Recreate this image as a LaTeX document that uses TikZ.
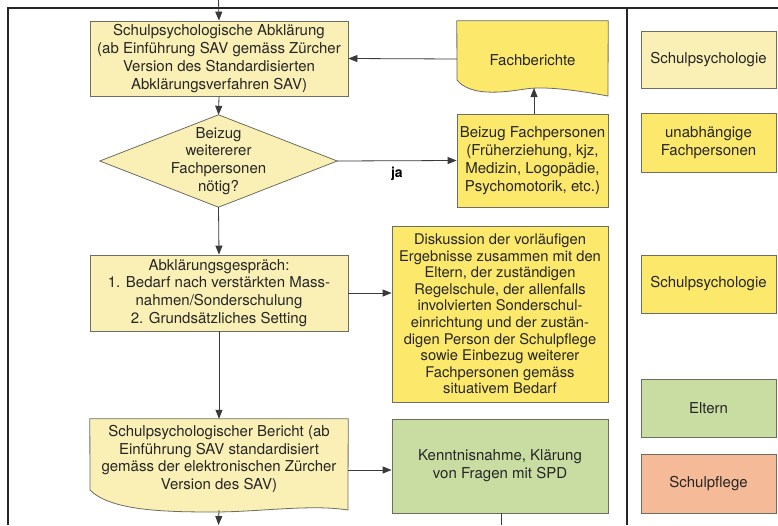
\documentclass[tikz,border=0pt]{standalone}
\usepackage{fontspec}
\setmainfont{TeX Gyre Heros}
\usetikzlibrary{arrows.meta}
\definecolor{lyel}{HTML}{FAF0B5}
\definecolor{syel}{HTML}{FCE86A}
\definecolor{lgreen}{HTML}{C9DDA3}
\definecolor{salmon}{HTML}{F5BA97}
\definecolor{edge}{HTML}{6E6E60}
\definecolor{conn}{HTML}{3A3A3A}
\begin{document}
\begin{tikzpicture}[x=1pt,y={(0pt,-1pt)},
  txt/.style={font=\fontsize{15}{17.8}\selectfont, align=center, text=black!85},
  box/.style={txt, draw=edge, line width=0.8pt, inner sep=0pt},
  area/.style={txt, inner sep=0pt},
  shp/.style={draw=edge, line width=0.8pt},
  conn/.style={draw=conn, line width=0.8pt, -{Triangle[length=9pt,width=7pt]}},
  plain/.style={draw=conn, line width=0.8pt},
  frame/.style={draw=black!85, line width=1.3pt}]
\useasboundingbox (0,0) rectangle (778,525);
\fill[white] (0,0) rectangle (778,525);
% frame
\draw[frame] (8,525) -- (8,8) -- (778,8);
\draw[frame] (627,8) -- (627,525);
% main column
\node[box, fill=lyel, minimum width=258pt, minimum height=75pt] (b1) at (219,58.5)
 {Schulpsychologische Abklärung\\(ab Einführung SAV gemäss Zürcher\\Version des Standardisierten\\Abklärungsverfahren SAV)};
\node[area, minimum width=237pt, minimum height=92pt] (dia) at (218.5,161) {};
\fill[lyel] (dia.west) -- (dia.north) -- (dia.east) -- (dia.south) -- cycle;
\draw[shp] (dia.west) -- (dia.north) -- (dia.east) -- (dia.south) -- cycle;
\node[txt] at (218.5,161) {Beizug\\weitererer\\Fachpersonen\\nötig?};
\node[box, fill=lyel, minimum width=258pt, minimum height=76pt] (b3) at (219,293)
 {Abklärungsgespräch:\\1. Bedarf nach verstärkten Mass-\\nahmen/Sonderschulung\\2. Grundsätzliches Setting};
\node[area, minimum width=258pt, minimum height=81pt] (b4) at (219,459.5) {};
\filldraw[shp, fill=lyel] (b4.north west) -- (b4.north east) -- (348,510)
  .. controls (310,504) and (260,512) .. (213,512)
  .. controls (160,512) and (110,510) .. (90,490) -- cycle;
\node[txt] at (219,459) {Schulpsychologischer Bericht (ab\\Einführung SAV standardisiert\\gemäss der elektronischen Zürcher\\Version des SAV)};
% right column
\node[area, minimum width=151pt, minimum height=75pt] (fach) at (532.5,58.5) {};
\filldraw[shp, fill=syel] (fach.north west) -- (fach.north east) -- (608,96)
  .. controls (575,90) and (545,86) .. (525,89)
  .. controls (500,93) and (470,96) .. (457,80) -- cycle;
\node[txt] at (532.5,60) {Fachberichte};
\coordinate (fachin) at (534,88);
\node[box, fill=syel, minimum width=151pt, minimum height=93pt] (bz) at (532.5,160.5)
 {Beizug Fachpersonen\\(Früherziehung, kjz,\\Medizin, Logopädie,\\Psychomotorik, etc.)};
\node[box, fill=syel, minimum width=216pt, minimum height=176pt,
      font=\fontsize{14.7}{16.6}\selectfont] (disk) at (500,314)
 {Diskussion der vorläufigen\\Ergebnisse zusammen mit den\\Eltern, der zuständigen\\Regelschule, der allenfalls\\involvierten Sonderschul-\\einrichtung und der zustän-\\digen Person der Schulpflege\\sowie Einbezug weiterer\\Fachpersonen gemäss\\situativem Bedarf};
\node[box, fill=lgreen, minimum width=216pt, minimum height=94pt] (kenn) at (500,466)
 {Kenntnisnahme, Klärung\\von Fragen mit SPD};
% legend
\node[box, fill=lyel, minimum width=135pt, minimum height=57pt] (l1) at (708.5,59.5) {Schulpsychologie};
\node[box, fill=syel, minimum width=135pt, minimum height=59pt] (l2) at (708.5,142.5) {unabhängige\\Fachpersonen};
\node[box, fill=syel, minimum width=135pt, minimum height=58pt] (l3) at (708.5,284) {Schulpsychologie};
\node[box, fill=lgreen, minimum width=135pt, minimum height=58pt] (l4) at (708.5,408) {Eltern};
\node[box, fill=salmon, minimum width=135pt, minimum height=59pt] (l5) at (708.5,483.5) {Schulpflege};
% connectors
\coordinate (topin) at (218.5,0);
\coordinate (botout) at (218.5,525);
\coordinate (kennout) at (501,525);
\draw[conn] (topin) -- (b1.north);
\draw[conn] (b1.south) -- (dia.north);
\draw[conn] (dia.south) -- (b3.north);
\draw[conn] (b3.south) -- (b4.north);
\draw[conn] (b4.south |- 0,510) -- (botout);
\draw[conn] (dia.east) -- node[below, pos=0.5, font=\fontsize{14}{16}\selectfont\bfseries, yshift=-3pt] (ja) {ja} (bz.west);
\draw[conn] (bz.north -| fachin) -- (fachin);
\draw[conn] (fach.west |- 0,59) -- (b1.east);
\draw[conn] (b3.east) -- (b3.east -| disk.west);
\draw[conn] (b4.east |- 0,470) -- (disk.west |- 0,470);
\draw[plain] (kenn.south -| kennout) -- (kennout);
\end{tikzpicture}
\end{document}
